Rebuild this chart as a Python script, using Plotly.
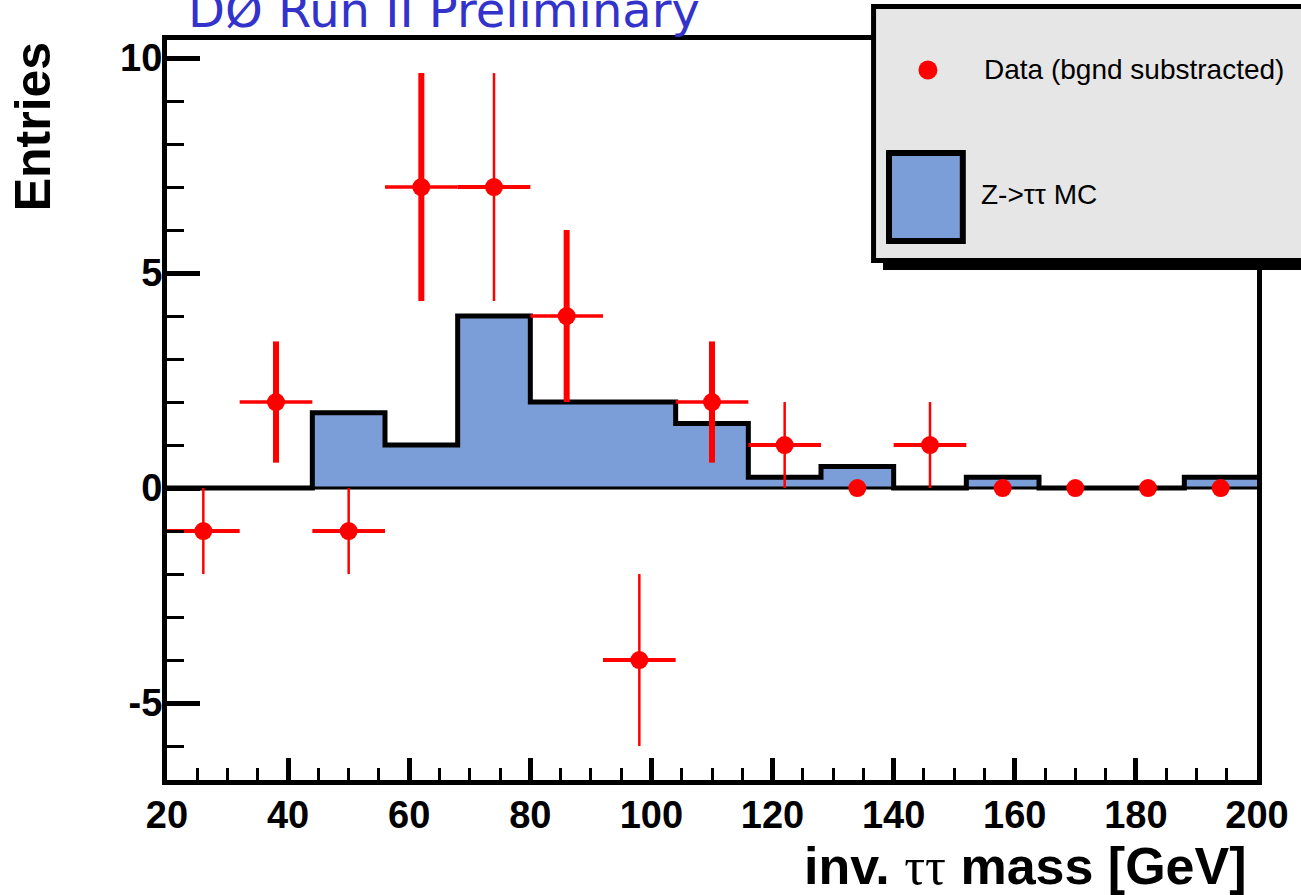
import plotly.graph_objects as go

# ---------------- data ----------------
bin_edges = [20, 32, 44, 56, 68, 80, 92, 104, 116, 128, 140, 152, 164, 176, 188, 200]
bin_centers = [26, 38, 50, 62, 74, 86, 98, 110, 122, 134, 146, 158, 170, 182, 194]
mc_counts = [0, 0, 1.75, 1, 4, 2, 2, 1.5, 0.25, 0.5, 0, 0.25, 0, 0, 0.25]
data_counts = [-1, 2, -1, 7, 7, 4, -4, 2, 1, 0, 1, 0, 0, 0, 0]
data_err_y = [1, 1.41, 1, 2.65, 2.65, 2, 2, 1.41, 1, 0, 1, 0, 0, 0, 0]
data_err_x = [6, 6, 6, 6, 6, 6, 6, 6, 6, 0, 6, 0, 0, 0, 0]
x_range = [20, 200]
y_range = [-6.79, 10.42]
x_ticks = [20, 40, 60, 80, 100, 120, 140, 160, 180, 200]
y_ticks = [-5, 0, 5, 10]
y_ticktext = ["-5", "0", "5", "10"]

# ---------------- layout geometry ----------------
W, H = 1301, 895
ML, MR, MT, MB = 167, 41, 40, 115
PW, PH = W - ML - MR, H - MT - MB


def px(x):
    return (x - ML) / PW


def py(y):
    return (H - MB - y) / PH


RED = "#ff0000"
BLUE = "#7c9ed8"

fig = go.Figure()

# MC histogram
fig.add_trace(go.Scatter(
    x=bin_edges, y=mc_counts + [mc_counts[-1]],
    mode="lines", line=dict(shape="hv", color="black", width=5),
    fill="tozeroy", fillcolor=BLUE, showlegend=False, hoverinfo="skip"))

# zero line
fig.add_trace(go.Scatter(
    x=x_range, y=[0, 0], mode="lines",
    line=dict(color="black", width=3), showlegend=False, hoverinfo="skip"))

# data points: two groups (thick / thin vertical bars as in the picture)
thick_idx = [1, 3, 5, 7]
for group, (wy, wx) in (("thick", (6, 3.5)), ("thin", (2.5, 4))):
    idx = [i for i in range(len(bin_centers)) if (i in thick_idx) == (group == "thick")]
    fig.add_trace(go.Scatter(
        x=[bin_centers[i] for i in idx],
        y=[data_counts[i] for i in idx],
        mode="markers",
        marker=dict(color=RED, size=18, symbol="circle", line=dict(width=0)),
        error_y=dict(type="data", array=[data_err_y[i] for i in idx],
                     color=RED, thickness=wy, width=0),
        error_x=dict(type="data", array=[data_err_x[i] for i in idx],
                     color=RED, thickness=wx, width=0),
        showlegend=False))

tickfont = dict(family="Liberation Sans, Arial", size=38, color="black", weight="bold")

fig.update_xaxes(
    range=x_range, tickvals=x_ticks, ticks="inside", ticklen=22, tickwidth=5,
    tickcolor="black", showline=True, linewidth=5, linecolor="black", mirror=True,
    showgrid=False, zeroline=False, tickfont=tickfont, ticklabelstandoff=-3,
    minor=dict(ticks="inside", dtick=5, tick0=20, ticklen=12, tickwidth=3, tickcolor="black"))
fig.update_yaxes(
    range=y_range, tickvals=y_ticks, ticktext=y_ticktext, ticks="inside", ticklen=33,
    tickwidth=5, tickcolor="black", showline=True, linewidth=5, linecolor="black",
    mirror=True, showgrid=False, zeroline=False, tickfont=tickfont, ticklabelstandoff=-8,
    minor=dict(ticks="inside", dtick=1, tick0=0, ticklen=17, tickwidth=3, tickcolor="black"))

shapes = []
# legend shadow
shapes.append(dict(type="rect", xref="paper", yref="paper",
                   x0=px(885), x1=px(1320), y0=py(14), y1=py(270),
                   fillcolor="black", line=dict(width=0), layer="above"))
# legend box
shapes.append(dict(type="rect", xref="paper", yref="paper",
                   x0=px(875.5), x1=px(1320), y0=py(6.5), y1=py(260.5),
                   fillcolor="#e6e6e6", line=dict(color="black", width=5), layer="above"))
# legend marker (data)
shapes.append(dict(type="circle", xref="paper", yref="paper",
                   x0=px(920.5), x1=px(939.5), y0=py(60.5), y1=py(79.5),
                   fillcolor=RED, line=dict(width=0), layer="above"))
# legend swatch (MC)
shapes.append(dict(type="rect", xref="paper", yref="paper",
                   x0=px(891), x1=px(965), y0=py(153), y1=py(241),
                   fillcolor=BLUE, line=dict(color="black", width=6), layer="above"))

annotations = [
    dict(text="DØ Run II Preliminary", xref="paper", yref="paper",
         x=px(186), y=py(10), xanchor="left", yanchor="middle", showarrow=False,
         font=dict(family="DejaVu Sans", size=48, color="#3333cc")),
    dict(text="<b>Entries</b>", xref="paper", yref="paper",
         x=px(33), y=py(126), xanchor="center", yanchor="middle", showarrow=False,
         textangle=-90, font=dict(family="Liberation Sans, Arial", size=50, color="black")),
    dict(text="<b>inv. <span style='font-weight:normal;font-family:Liberation Serif'>ττ</span> mass [GeV]</b>",
         xref="paper", yref="paper",
         x=px(1252), y=py(866), xanchor="right", yanchor="middle", showarrow=False,
         font=dict(family="Liberation Sans, Arial", size=52, color="black")),
    dict(text="Data (bgnd substracted)", xref="paper", yref="paper",
         x=px(984), y=py(69), xanchor="left", yanchor="middle", showarrow=False,
         font=dict(family="Liberation Sans, Arial", size=28, color="black")),
    dict(text="Z->ττ MC", xref="paper", yref="paper",
         x=px(981), y=py(195), xanchor="left", yanchor="middle", showarrow=False,
         font=dict(family="Liberation Sans, Arial", size=28, color="black")),
]

fig.update_layout(
    width=W, height=H,
    margin=dict(l=ML, r=MR, t=MT, b=MB, pad=0),
    paper_bgcolor="white", plot_bgcolor="white",
    shapes=shapes, annotations=annotations, showlegend=False)

fig.write_html("out.html")
